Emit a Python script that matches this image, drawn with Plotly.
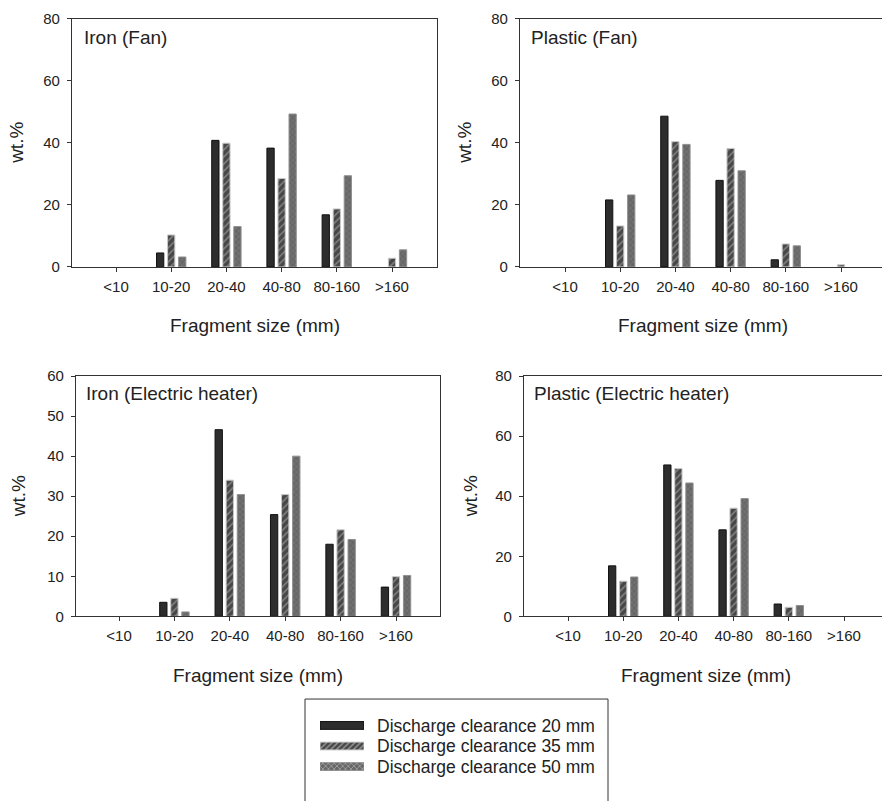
import plotly.graph_objects as go

# ---- data -------------------------------------------------------------
sizes = ["<10", "10-20", "20-40", "40-80", "80-160", ">160"]
series = ["Discharge clearance 20 mm", "Discharge clearance 35 mm", "Discharge clearance 50 mm"]

iron_fan_20 = [0, 4.5, 40.8, 38.3, 16.8, 0]
iron_fan_35 = [0, 10.3, 39.9, 28.5, 18.7, 2.8]
iron_fan_50 = [0, 3.2, 13.0, 49.3, 29.4, 5.5]

plastic_fan_20 = [0, 21.6, 48.6, 27.9, 2.3, 0]
plastic_fan_35 = [0, 13.2, 40.4, 38.2, 7.4, 0.7]
plastic_fan_50 = [0, 23.2, 39.5, 31.0, 6.8, 0]

iron_heater_20 = [0, 3.5, 46.6, 25.4, 18.0, 7.3]
iron_heater_35 = [0, 4.5, 34.0, 30.4, 21.6, 9.9]
iron_heater_50 = [0, 1.1, 30.4, 40.0, 19.2, 10.2]

plastic_heater_20 = [0, 16.8, 50.4, 28.8, 4.1, 0]
plastic_heater_35 = [0, 11.7, 49.2, 36.0, 3.0, 0]
plastic_heater_50 = [0, 13.1, 44.4, 39.2, 3.6, 0]

panel_titles = ["Iron (Fan)", "Plastic (Fan)", "Iron (Electric heater)", "Plastic (Electric heater)"]
panel_values = [
    [iron_fan_20, iron_fan_35, iron_fan_50],
    [plastic_fan_20, plastic_fan_35, plastic_fan_50],
    [iron_heater_20, iron_heater_35, iron_heater_50],
    [plastic_heater_20, plastic_heater_35, plastic_heater_50],
]
y_max = [80, 80, 60, 80]
y_step = [20, 20, 10, 20]
x_title = "Fragment size (mm)"
y_title = "wt.%"

# ---- page geometry (pixels) --------------------------------------------
W, H = 882, 801
FONT = "Arial, 'Liberation Sans', sans-serif"
INK = "#222222"


def px_x(p):
    return p / W


def px_y(p):
    return 1 - p / H


# left, right, top, bottom, first tick, last tick, title x, title y, ylabel x
frames = [
    dict(l=72, r=437, t=10, b=263.5, t0=116, t5=392, tx=82, ty=29, yl=17),
    dict(l=520, r=882, t=10, b=263.5, t0=565, t5=841, tx=529, ty=29, yl=465),
    dict(l=76, r=440, t=375, b=620.5, t0=119, t5=396, tx=84, ty=393, yl=18),
    dict(l=524, r=882, t=375, b=620.5, t0=568, t5=844, tx=532, ty=393, yl=470),
]

fills = ["#2d2d2d", "#474747", "#676767"]
edges = ["#111111", "#c8c8c8", "#909090"]
patterns = [
    None,
    dict(shape="/", bgcolor="#474747", fgcolor="#bdbdbd", size=5, solidity=0.3),
    dict(shape="x", bgcolor="#676767", fgcolor="#8c8c8c", size=4, solidity=0.3),
]

fig = go.Figure()
layout = {}
annotations = []

for i, fr in enumerate(frames):
    n = "" if i == 0 else str(i + 1)
    for k in range(3):
        vals = panel_values[i][k]
        marker = dict(color=fills[k],
                      line=dict(color=edges[k], width=[1 if v > 0 else 0 for v in vals]))
        if patterns[k]:
            marker["pattern"] = patterns[k]
        fig.add_trace(go.Bar(
            x=sizes, y=vals, name=series[k], marker=marker,
            xaxis="x" + n, yaxis="y" + n, showlegend=False,
        ))
    sp = (fr["t5"] - fr["t0"]) / 5
    x_range = [(fr["l"] - fr["t0"]) / sp, 5 + (fr["r"] - fr["t5"]) / sp]
    full_right = fr["t5"] + (x_range[1] - 5) * sp if fr["r"] < W else fr["t5"] + 0.8 * sp
    right_panel = i % 2 == 1
    layout["xaxis" + n] = dict(
        domain=[px_x(fr["l"]), px_x(fr["r"])], range=x_range, type="category",
        anchor="y" + n, showline=True, linecolor="#333333", linewidth=1.3, mirror=True,
        ticks="outside", ticklen=4, tickcolor="#333333", tickwidth=1,
        tickfont=dict(family=FONT, size=15, color=INK), ticklabelstandoff=2,
        showgrid=False, zeroline=False,
    )
    layout["yaxis" + n] = dict(
        domain=[px_y(fr["b"]), px_y(fr["t"])], range=[0, y_max[i]], dtick=y_step[i],
        anchor="x" + n, showline=True, linecolor="#333333", linewidth=1.3,
        mirror=not right_panel,
        ticks="outside", ticklen=4, tickcolor="#333333", tickwidth=1,
        tickfont=dict(family=FONT, size=15, color=INK), ticklabelstandoff=4,
        showgrid=False, zeroline=False,
    )
    annotations.append(dict(
        text=panel_titles[i], xref="paper", yref="paper", x=px_x(fr["tx"]), y=px_y(fr["ty"]),
        xanchor="left", yanchor="middle", showarrow=False,
        font=dict(family=FONT, size=19, color=INK),
    ))
    annotations.append(dict(
        text=x_title, xref="paper", yref="paper", x=px_x((fr["l"] + full_right) / 2),
        y=px_y(fr["b"] + 60), xanchor="center", yanchor="middle", showarrow=False,
        font=dict(family=FONT, size=19, color=INK),
    ))
    annotations.append(dict(
        text=y_title, xref="paper", yref="paper", x=px_x(fr["yl"]), y=px_y((fr["t"] + fr["b"]) / 2),
        xanchor="center", yanchor="middle", textangle=-90, showarrow=False,
        font=dict(family=FONT, size=19, color=INK),
    ))

# ---- legend: boxed key with wide swatches ------------------------------
fig.add_trace(go.Bar(
    y=series, x=[1, 1, 1], orientation="h", width=0.38,
    xaxis="x5", yaxis="y5", showlegend=False, hoverinfo="skip",
    marker=dict(
        color=fills,
        pattern=dict(shape=["", "/", "x"], bgcolor=fills,
                     fgcolor=[fills[0], "#bdbdbd", "#8c8c8c"], size=[5, 4, 4],
                     solidity=[0.3, 0.3, 0.3]),
        line=dict(color=edges, width=1),
    ),
))
layout["xaxis5"] = dict(domain=[px_x(320), px_x(364)], range=[0, 1], visible=False,
                        anchor="y5", fixedrange=True)
layout["yaxis5"] = dict(domain=[px_y(784.5), px_y(721.5)], type="category",
                        autorange="reversed", side="right", anchor="x5",
                        tickmode="array", tickvals=series, ticktext=series,
                        showline=False, showgrid=False, zeroline=False, ticks="",
                        ticklabelstandoff=12,
                        tickfont=dict(family=FONT, size=17.5, color=INK))

fig.update_layout(
    width=W, height=H, margin=dict(l=0, r=0, t=0, b=0), autosize=False,
    paper_bgcolor="white", plot_bgcolor="white",
    barmode="group", bargap=0.4, bargroupgap=0.34,
    annotations=annotations,
    shapes=[dict(type="rect", xref="paper", yref="paper",
                 x0=px_x(305), x1=px_x(608), y0=px_y(815), y1=px_y(705),
                 line=dict(color="#333333", width=1), fillcolor="rgba(0,0,0,0)",
                 layer="below")],
    **layout,
)

fig.write_html("out.html")
